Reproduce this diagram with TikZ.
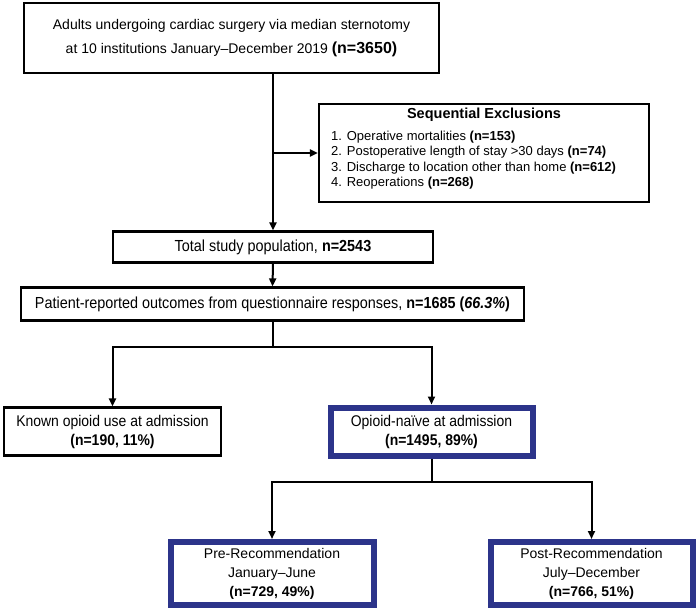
\documentclass[tikz,border=0pt]{standalone}
\usepackage{fontspec}
\setmainfont{Liberation Sans}
\newfontfamily\narrowfont[FakeStretch=0.9]{Liberation Sans}
\usetikzlibrary{arrows.meta}
\definecolor{navy}{RGB}{44,52,138}
\tikzset{
  box/.style={draw=black, line width=2.2pt, rectangle, inner sep=0pt, align=center},
  bluebox/.style={draw=navy, line width=6pt, rectangle, inner sep=0pt, align=center},
  arr/.style={line width=2pt, -{Triangle[length=8pt,width=7pt]}},
  ln/.style={line width=2pt},
  txt/.style={inner sep=0pt, align=center},
}
\begin{document}
\begin{tikzpicture}[x=1pt,y=-1pt]
\useasboundingbox (0,0) rectangle (697,611);
% boxes
\node[box, line width=2.6pt, minimum width=415pt, minimum height=70pt,
  font=\fontsize{14}{24}\selectfont] (top) at (231.5,38)
  {Adults undergoing cardiac surgery via median sternotomy\\
   at 10 institutions January--December 2019 {\fontsize{16}{24}\selectfont\bfseries(n=3650)}};
\node[box, minimum width=330pt, minimum height=98pt] (excl) at (484,153) {};
\node[txt, font=\fontsize{14.5}{16}\selectfont\bfseries] (exT) at (484,115) {Sequential Exclusions};
\node[txt, align=left, anchor=west, font=\fontsize{13}{15.5}\selectfont] (exL) at (331,160)
  {1. Operative mortalities \textbf{(n=153)}\\
   2. Postoperative length of stay >30 days \textbf{(n=74)}\\
   3. Discharge to location other than home \textbf{(n=612)}\\
   4. Reoperations \textbf{(n=268)}};
\node[box, minimum width=320pt, minimum height=31pt, font=\narrowfont\fontsize{16}{19}\selectfont] (total) at (273,247)
  {Total study population, \textbf{n=2543}};
\node[box, minimum width=503pt, minimum height=33pt, font=\narrowfont\fontsize{16}{19}\selectfont] (pro) at (272.5,304)
  {Patient-reported outcomes from questionnaire responses, \textbf{n=1685 (\textit{66.3\%})}};
\node[box, minimum width=217pt, minimum height=48pt, font=\narrowfont\fontsize{15.5}{19}\selectfont] (known) at (112.5,431.5)
  {Known opioid use at admission\\\textbf{(n=190, 11\%)}};
\node[bluebox, minimum width=202pt, minimum height=48pt, font=\narrowfont\fontsize{15.5}{19}\selectfont] (opioid) at (431.5,431.5)
  {Opioid-naïve at admission\\\textbf{(n=1495, 89\%)}};
\node[bluebox, minimum width=203pt, minimum height=63pt, font=\fontsize{14}{19}\selectfont] (pre) at (272,573.5)
  {Pre-Recommendation\\January--June\\\textbf{(n=729, 49\%)}};
\node[bluebox, minimum width=202pt, minimum height=63pt, font=\fontsize{14}{19}\selectfont] (post) at (591.5,573.5)
  {Post-Recommendation\\July--December\\\textbf{(n=766, 51\%)}};
% connectors
\draw[arr] (top.south -| total.north) -- (total.north);
\draw[arr] (total.north |- excl.west) -- (excl.west);
\draw[arr] (total.south) -- (pro.south |- pro.north);
\coordinate (b1) at (272.5,347);
\draw[ln] (pro.south) -- (b1);
\draw[arr] (b1) -| (known.north);
\draw[arr] (b1) -| (opioid.north);
\coordinate (b2) at (431.5,482);
\draw[ln] (opioid.south) -- (b2);
\draw[arr] (b2) -| (pre.north);
\draw[arr] (b2) -| (post.north);
\end{tikzpicture}
\end{document}
